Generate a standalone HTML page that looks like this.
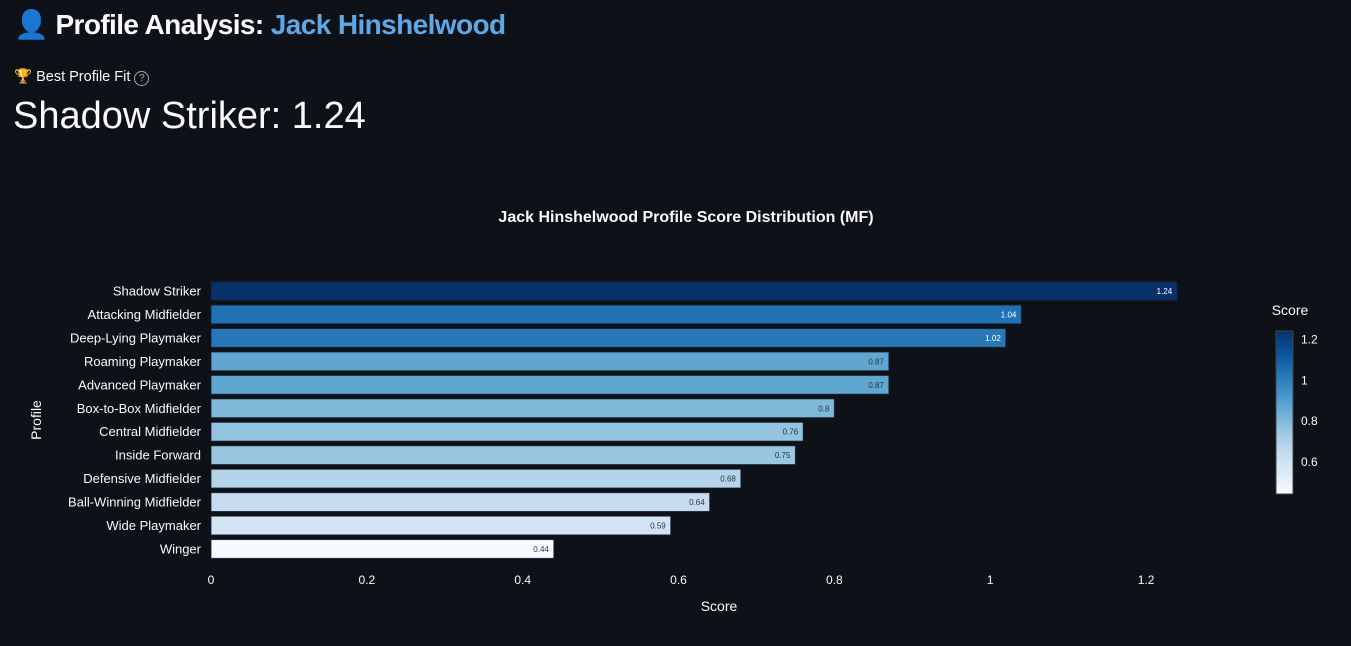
<!DOCTYPE html>
<html><head><meta charset="utf-8">
<style>
body{margin:0;background:#0e1117;width:1351px;height:646px;overflow:hidden;font-family:"Liberation Sans","DejaVu Sans",sans-serif;color:#fafafa;position:relative}
.h1{position:absolute;left:14px;top:8px;font-size:28px;font-weight:bold;letter-spacing:-0.6px}
.h1 .nm{color:#5fa8e8}
.lbl{position:absolute;left:14px;top:68px;font-size:14.5px}
.big{position:absolute;left:13px;top:95px;font-size:38px}
svg{position:absolute;left:0;top:0}
</style></head><body>
<div class="h1"><span style="color:#888">👤</span> Profile Analysis: <span class="nm">Jack Hinshelwood</span></div>
<div class="lbl">🏆 Best Profile Fit <span style="display:inline-block;width:13px;height:13px;border:1.5px solid #aaa;border-radius:50%;font-size:10px;text-align:center;line-height:13px;color:#aaa">?</span></div>
<div class="big">Shadow Striker: 1.24</div>
<svg id="chart" width="1351" height="646"></svg>
<script>
const categories=["Shadow Striker","Attacking Midfielder","Deep-Lying Playmaker","Roaming Playmaker","Advanced Playmaker","Box-to-Box Midfielder","Central Midfielder","Inside Forward","Defensive Midfielder","Ball-Winning Midfielder","Wide Playmaker","Winger"];
const values=[1.24,1.04,1.02,0.87,0.87,0.80,0.76,0.75,0.68,0.64,0.59,0.44];
const valueLabels=["1.24","1.04","1.02","0.87","0.87","0.8","0.76","0.75","0.68","0.64","0.59","0.44"];
const xTicks=[0,0.2,0.4,0.6,0.8,1,1.2];
const xTickLabels=["0","0.2","0.4","0.6","0.8","1","1.2"];
const cbTicks=[0.6,0.8,1,1.2];
const cbTickLabels=["0.6","0.8","1","1.2"];

const NS="http://www.w3.org/2000/svg";
const svg=document.getElementById('chart');
function mk(t,a,txt){const e=document.createElementNS(NS,t);for(const k in a)e.setAttribute(k,a[k]);if(txt!==undefined)e.textContent=txt;svg.appendChild(e);return e;}
const x0=211,pxPerUnit=779.2;
const xs=v=>x0+v*pxPerUnit;
const yTop=279.3,band=23.45;
const yc=i=>yTop+band*(i+0.5);
const cmin=Math.min(...values),cmax=Math.max(...values);
const blues=[[0,[247,251,255]],[0.125,[222,235,247]],[0.25,[198,219,239]],[0.375,[158,202,225]],[0.5,[107,174,214]],[0.625,[66,146,198]],[0.75,[33,113,181]],[0.875,[8,81,156]],[1,[8,48,107]]];
function col(t){t=Math.max(0,Math.min(1,t));for(let i=1;i<blues.length;i++){if(t<=blues[i][0]){const a=blues[i-1],b=blues[i];const f=(t-a[0])/(b[0]-a[0]);return 'rgb('+a[1].map((c,j)=>Math.round(c+(b[1][j]-c)*f)).join(',')+')';}}return 'rgb(8,48,107)';}

let e=mk('text',{x:686,y:222,'text-anchor':'middle','font-size':16,'font-weight':'bold',fill:'#fafafa'},'Jack Hinshelwood Profile Score Distribution (MF)');



categories.forEach((c,i)=>{
  const v=values[i],t=(v-cmin)/(cmax-cmin);
  const r=mk('rect',{x:x0,y:yc(i)-9.4,width:xs(v)-x0,height:18.8,fill:col(t),stroke:'rgba(20,30,45,0.8)','stroke-width':1});
  
  
  const lb=mk('text',{x:xs(v)-5,y:yc(i)+3,'text-anchor':'end','font-size':8,fill:t>0.6?'#ffffff':'#2a3442'},valueLabels[i]);
  
  
  const cl=mk('text',{x:201,y:yc(i)+4.5,'text-anchor':'end','font-size':13,fill:'#fafafa'},c);
  
  
});
xTicks.forEach((v,i)=>{
  const t=mk('text',{x:xs(v),y:584,'text-anchor':'middle','font-size':12,fill:'#fafafa'},xTickLabels[i]);
  
  
});
e=mk('text',{x:719,y:611,'text-anchor':'middle','font-size':14,fill:'#fafafa'},'Score');


e=mk('text',{x:41,y:420,'text-anchor':'middle','font-size':14,fill:'#fafafa',transform:'rotate(-90 41 420)'},'Profile');



const defs=document.createElementNS(NS,'defs');svg.appendChild(defs);
const g=document.createElementNS(NS,'linearGradient');g.setAttribute('id','cb');g.setAttribute('x1',0);g.setAttribute('y1',1);g.setAttribute('x2',0);g.setAttribute('y2',0);defs.appendChild(g);
blues.forEach(s=>{const st=document.createElementNS(NS,'stop');st.setAttribute('offset',s[0]);st.setAttribute('stop-color','rgb('+s[1].join(',')+')');g.appendChild(st);});
const cbTop=331,cbBot=494;
const cy=v=>cbBot-(v-cmin)/(cmax-cmin)*(cbBot-cbTop);
e=mk('rect',{x:1276,y:cbTop,width:17,height:cbBot-cbTop,fill:'url(#cb)',stroke:'#444','stroke-width':1});


cbTicks.forEach((v,i)=>{
  const t=mk('text',{x:1301,y:cy(v)+4.5,'font-size':12,fill:'#fafafa'},cbTickLabels[i]);
  
  
});
e=mk('text',{x:1290,y:315,'text-anchor':'middle','font-size':14,fill:'#fafafa'},'Score');


</script>
</body></html>
